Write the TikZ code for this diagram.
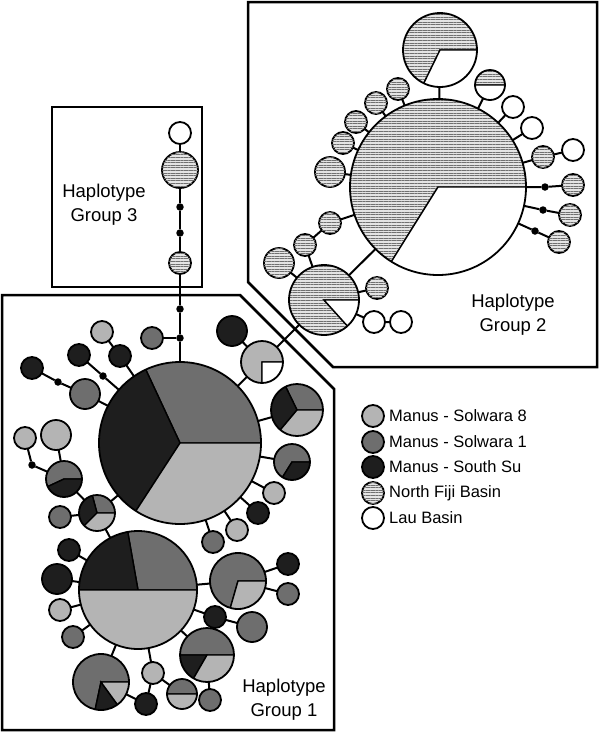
\documentclass[tikz,border=0pt]{standalone}
\usepackage{fontspec}
\setmainfont{Liberation Sans}
\usetikzlibrary{patterns.meta}
\definecolor{lgc}{HTML}{B4B4B4}
\definecolor{mgc}{HTML}{6E6E6E}
\definecolor{bkc}{HTML}{1E1E1E}
\definecolor{htbg}{HTML}{E4E4E4}
\definecolor{htln}{HTML}{707070}
\begin{document}
\begin{tikzpicture}[x=1pt,y=1pt,
  lg/.style={fill=lgc}, mg/.style={fill=mgc}, bk/.style={fill=bkc}, wh/.style={fill=white},
  ht/.style={fill=htbg, postaction={pattern={Lines[angle=0,distance=2.6pt,line width=0.8pt]}, pattern color=htln}},
  hap/.style={circle, draw=black, line width=1.8pt, inner sep=0pt, outer sep=0pt, minimum size=#1},
  pie/.style={path picture={\foreach \a/\b/\s in {#1}{\draw[\s, draw=black, line width=1.4pt] (path picture bounding box.center) -- ++(\a:130) arc[start angle=\a, end angle=\b, radius=130] -- cycle;}}},
  dot/.style={circle, fill=black, inner sep=0pt, outer sep=0pt, minimum size=7.5pt},
  link/.style={line width=2pt},
  frame/.style={line width=2.5pt, line join=miter},
  lbl/.style={align=center, font=\fontsize{18.5}{24}\selectfont},
  leg/.style={anchor=west, font=\fontsize{16.5}{20}\selectfont, inner sep=0pt}]
\useasboundingbox (0,0) rectangle (600,-732);

% frames
\draw[frame] (52,-107) rectangle (202,-287);
\draw[frame] (2,-295) -- (240,-295) -- (334,-389) -- (334,-730) -- (2,-730) -- cycle;
\draw[frame] (248,-2) -- (597,-2) -- (597,-367) -- (333,-367) -- (248,-282) -- cycle;

% ---------- Group 3 ----------
\node[hap=22pt, wh] (g3w) at (180,-133) {};
\node[hap=36pt, ht] (g3h) at (180,-170) {};
\node[dot] (g3d1) at (180,-207) {};
\node[dot] (g3d2) at (180,-233) {};
\node[hap=22pt, ht] (g3s) at (180,-263) {};
\node[dot] (d1) at (180,-309) {};
\node[dot] (d2) at (180,-338) {};
\node[hap=22pt, mg] (m0) at (152,-338) {};

% ---------- Group 1 ----------
\node[hap=162pt, pie={0/115/mg,115/237/bk,237/360/lg}] (A) at (180,-443) {};
\node[hap=22pt, bk] (a1) at (79,-355) {};
\node[dot] (da1) at (103,-376) {};
\node[hap=22pt, lg] (a2) at (102,-332) {};
\node[hap=22pt, bk] (a3) at (120,-356) {};
\node[hap=22pt, bk] (a4) at (32,-368) {};
\node[dot] (da4) at (58,-382) {};
\node[hap=30pt, mg] (a5) at (85,-394) {};
\node[hap=22pt, lg] (a6) at (25,-438) {};
\node[dot] (da6) at (32,-465) {};
\node[hap=36pt, pie={0/205/mg,205/360/bk}] (a7) at (64,-479) {};
\node[hap=30pt, lg] (a8) at (56,-435) {};
\node[hap=36pt, pie={0/105/mg,105/225/bk,225/360/lg}] (a9) at (97,-513) {};
\node[hap=22pt, mg] (a10) at (60,-517) {};

\node[hap=118pt, pie={0/100/mg,100/180/bk,180/360/lg}] (B) at (138,-590) {};
\node[hap=22pt, bk] (b1) at (69,-550) {};
\node[hap=30pt, bk] (b2) at (57,-579) {};
\node[hap=22pt, lg] (b3) at (60,-610) {};
\node[hap=22pt, mg] (b4) at (73,-637) {};
\node[hap=56pt, pie={0/258/mg,258/306/bk,306/360/lg}] (b5) at (101,-682) {};
\node[hap=22pt, bk] (b6) at (146,-704) {};
\node[hap=22pt, lg] (b7) at (153,-673) {};
\node[hap=30pt, pie={0/180/mg,180/360/lg}] (b8) at (182,-694) {};
\node[hap=54pt, pie={0/180/mg,180/240/bk,240/360/lg}] (b9) at (207,-655) {};
\node[hap=22pt, mg] (b10) at (210,-700) {};
\node[hap=22pt, bk] (b11) at (215,-617) {};
\node[hap=30pt, mg] (b12) at (252,-627) {};
\node[hap=56pt, pie={0/254/mg,254/360/lg}] (b13) at (238,-581) {};
\node[hap=22pt, bk] (b14) at (288,-564) {};
\node[hap=22pt, mg] (b15) at (288,-594) {};

\node[hap=42pt, pie={0/270/lg,270/360/wh}] (c1) at (262,-362) {};
\node[hap=30pt, bk] (c2) at (232,-331) {};
\node[hap=52pt, pie={0/116/mg,116/230/bk,230/360/lg}] (c3) at (297,-410) {};
\node[hap=36pt, pie={0/238/mg,238/360/bk}] (c4) at (292,-462) {};
\node[hap=22pt, lg] (c5) at (274,-493) {};
\node[hap=22pt, bk] (c6) at (258,-513) {};
\node[hap=22pt, lg] (c7) at (237,-530) {};
\node[hap=22pt, mg] (c8) at (213,-542) {};

% ---------- Group 2 ----------
\node[hap=176pt, pie={0/238/ht,238/360/wh}] (C) at (438,-187) {};
\node[hap=74pt, pie={0/244/ht,244/360/wh}] (e1) at (440,-50) {};
\node[hap=30pt, pie={0/180/ht,180/360/wh}] (e2) at (490,-85) {};
\node[hap=22pt, wh] (e3) at (513,-107) {};
\node[hap=22pt, wh] (e4) at (532,-128) {};
\node[hap=22pt, ht] (e5) at (543,-157) {};
\node[hap=22pt, wh] (e6) at (573,-150) {};
\node[dot] (de7) at (545,-187) {};
\node[hap=22pt, ht] (e7) at (573,-185) {};
\node[dot] (de8) at (543,-210) {};
\node[hap=22pt, ht] (e8) at (570,-215) {};
\node[dot] (de9) at (535,-231) {};
\node[hap=22pt, ht] (e9) at (559,-242) {};
\node[hap=22pt, ht] (f1) at (398,-89) {};
\node[hap=22pt, ht] (f2) at (376,-103) {};
\node[hap=22pt, ht] (f3) at (356,-122) {};
\node[hap=22pt, ht] (f4) at (343,-143) {};
\node[hap=30pt, ht] (f5) at (330,-172) {};
\node[hap=22pt, ht] (f6) at (330,-223) {};
\node[hap=22pt, ht] (f7) at (305,-245) {};
\node[hap=30pt, ht] (f8) at (279,-263) {};
\node[hap=70pt, pie={0/312/ht,312/360/wh}] (P) at (324,-300) {};
\node[hap=22pt, ht] (g1) at (377,-288) {};
\node[hap=22pt, wh] (g2) at (374,-322) {};
\node[hap=22pt, wh] (g3) at (401,-322) {};

% ---------- connectors ----------
\draw[link] (g3w) -- (g3h) -- (g3d1) -- (g3d2) -- (g3s) -- (d1) -- (d2) -- (A);
\draw[link] (d2) -- (m0);
\draw[link] (A) -- (da1) -- (a1);
\draw[link] (A) -- (a3) -- (a2);
\draw[link] (A) -- (a5) -- (da4) -- (a4);
\draw[link] (a6) -- (da6) -- (a7);
\draw[link] (a8) -- (a7);
\draw[link] (a7) -- (a9);
\draw[link] (a9) -- (A);
\draw[link] (a9) -- (a10);
\draw[link] (a9) -- (B);
\draw[link] (B) -- (b1);
\draw[link] (B) -- (b2);
\draw[link] (B) -- (b3);
\draw[link] (B) -- (b4);
\draw[link] (B) -- (b5);
\draw[link] (b5) -- (b6) -- (b7);
\draw[link] (B) -- (b7);
\draw[link] (b7) -- (b8);
\draw[link] (B) -- (b9);
\draw[link] (b9) -- (b10);
\draw[link] (B) -- (b11) -- (b12);
\draw[link] (B) -- (b13);
\draw[link] (b13) -- (b14);
\draw[link] (b13) -- (b15);
\draw[link] (A) -- (c1);
\draw[link] (c2) -- (c1);
\draw[link] (A) -- (c3);
\draw[link] (A) -- (c4);
\draw[link] (A) -- (c5);
\draw[link] (A) -- (c6);
\draw[link] (A) -- (c7);
\draw[link] (A) -- (c8);
\draw[link] (c1) -- (P);
\draw[link] (P) -- (C);
\draw[link] (P) -- (g1);
\draw[link] (P) -- (g2) -- (g3);
\draw[link] (P) -- (f7) -- (f6) -- (C);
\draw[link] (P) -- (f8);
\draw[link] (C) -- (e1);
\draw[link] (C) -- (e2);
\draw[link] (C) -- (e3);
\draw[link] (C) -- (e4);
\draw[link] (C) -- (e5) -- (e6);
\draw[link] (C) -- (de7) -- (e7);
\draw[link] (C) -- (de8) -- (e8);
\draw[link] (C) -- (de9) -- (e9);
\draw[link] (C) -- (f1);
\draw[link] (C) -- (f2);
\draw[link] (C) -- (f3);
\draw[link] (C) -- (f4);
\draw[link] (C) -- (f5);

% ---------- labels ----------
\node[lbl] (L3) at (104,-205) {Haplotype\\Group 3};
\node[lbl] (L2) at (513,-315) {Haplotype\\Group 2};
\node[lbl] (L1) at (284,-700) {Haplotype\\Group 1};

% ---------- legend ----------
\node[hap=22pt, lg] (k1) at (373,-416) {};
\node[hap=22pt, mg] (k2) at (373,-442) {};
\node[hap=22pt, bk] (k3) at (373,-467) {};
\node[hap=22pt, ht] (k4) at (373,-493) {};
\node[hap=22pt, wh] (k5) at (373,-518) {};
\node[leg] (t1) at (389,-416) {Manus - Solwara 8};
\node[leg] (t2) at (389,-442) {Manus - Solwara 1};
\node[leg] (t3) at (389,-467) {Manus - South Su};
\node[leg] (t4) at (389,-493) {North Fiji Basin};
\node[leg] (t5) at (389,-518) {Lau Basin};
\end{tikzpicture}
\end{document}
